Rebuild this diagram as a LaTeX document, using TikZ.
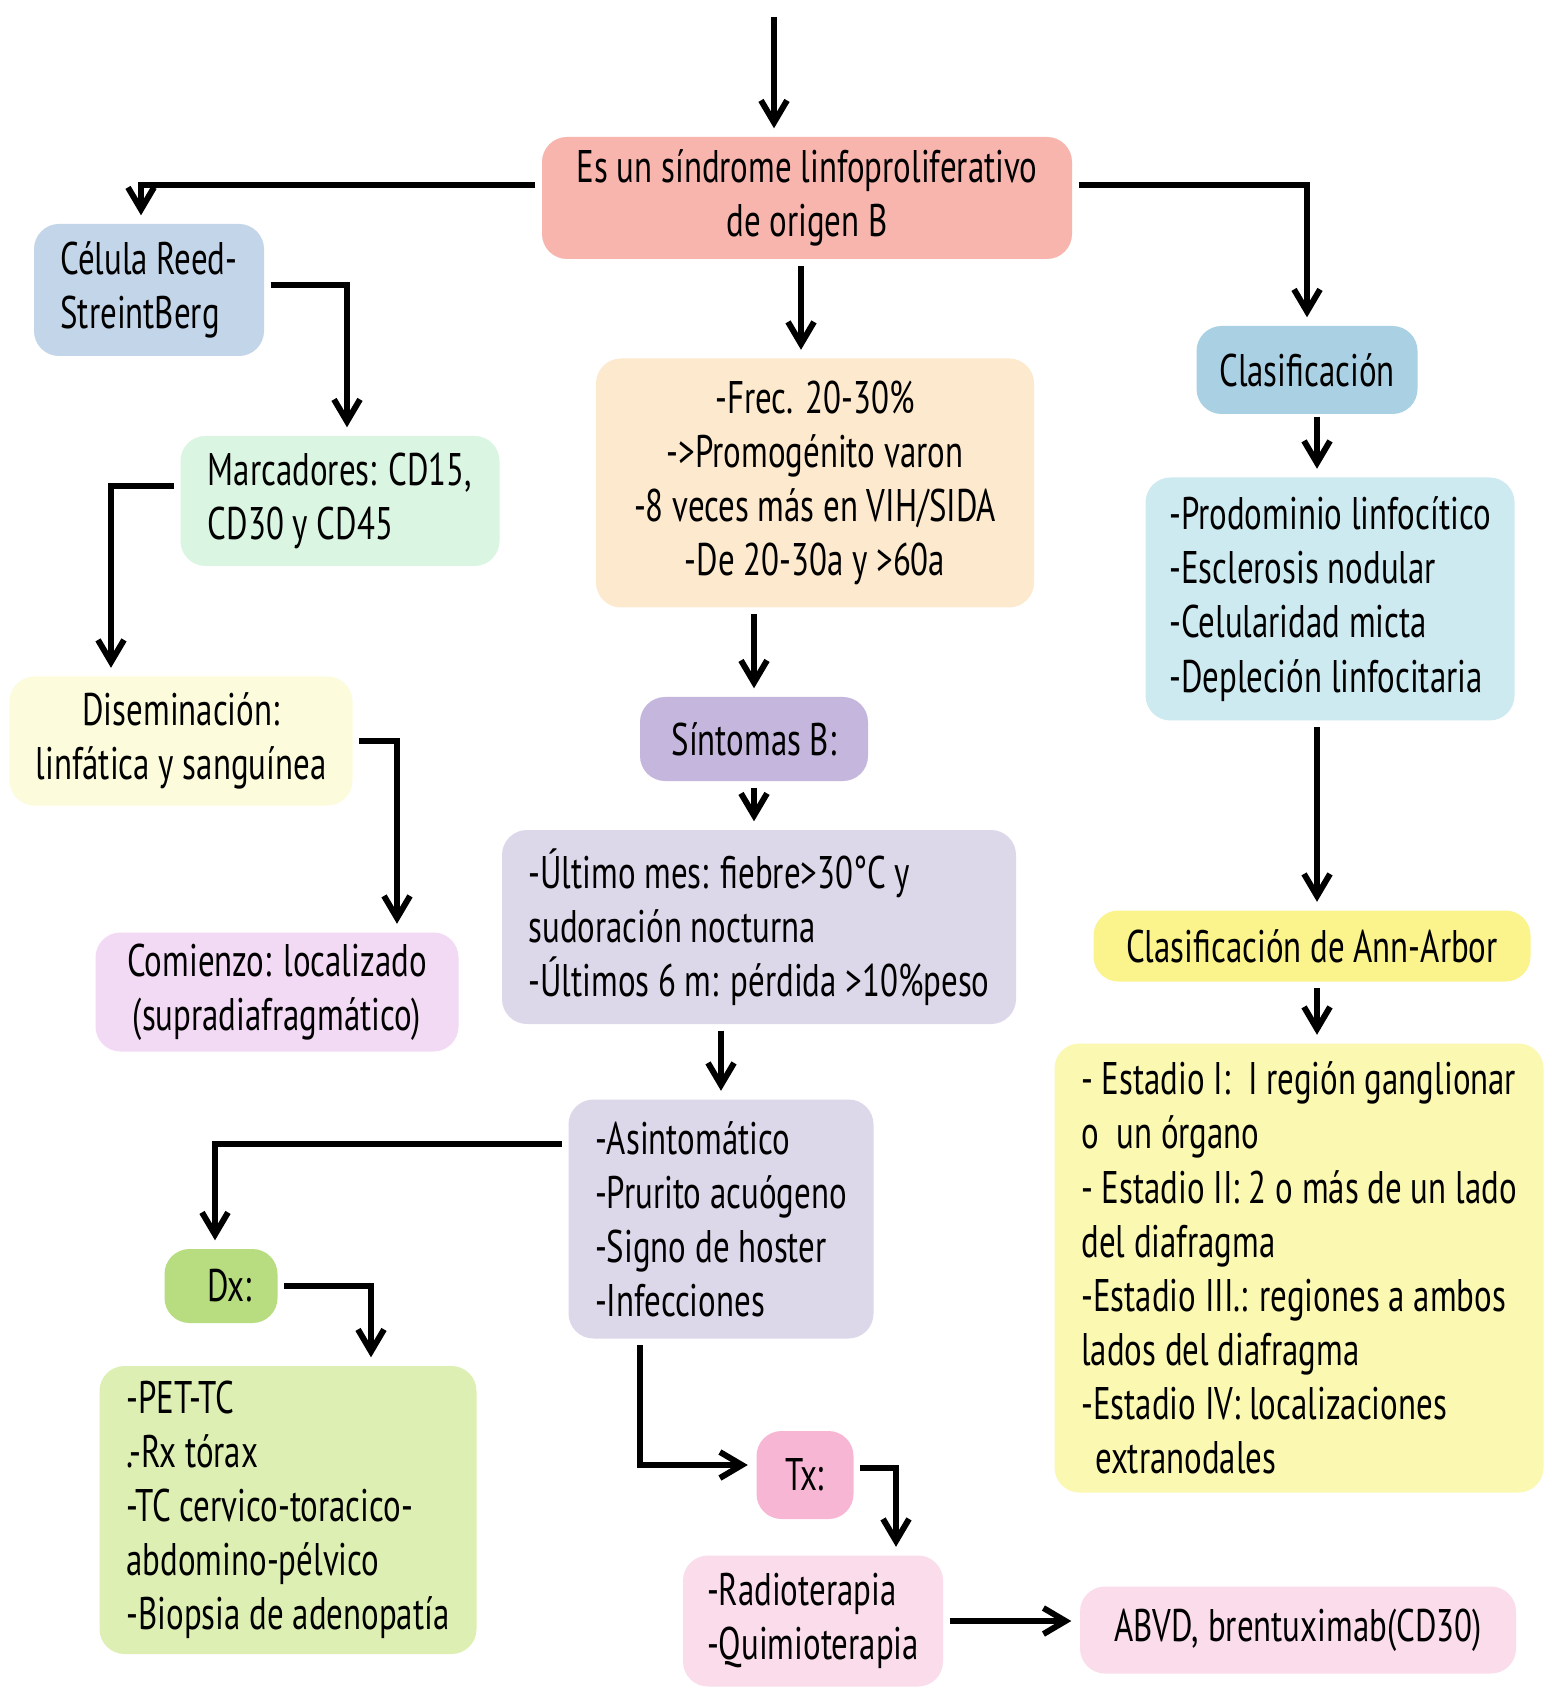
\documentclass[tikz,border=0pt]{standalone}
\usepackage{fontspec}
\setmainfont{PT Sans}[FakeStretch=0.72]
\usetikzlibrary{arrows.meta,positioning}
\tikzset{>={Straight Barb[length=2.2mm,width=2.6mm]}}

\definecolor{rosaorigen}{HTML}{F7B5AE}
\definecolor{azulcelula}{HTML}{C3D5E8}
\definecolor{mentamarc}{HTML}{DAF5E1}
\definecolor{cremadisem}{HTML}{FCFCDD}
\definecolor{lilacomienzo}{HTML}{F3DAF4}
\definecolor{durazno}{HTML}{FDE9CD}
\definecolor{moradosint}{HTML}{C4B6DC}
\definecolor{lavanda}{HTML}{DDD7EA}
\definecolor{verdedx}{HTML}{B7DD80}
\definecolor{verdeclaro}{HTML}{DDEFB2}
\definecolor{rosatx}{HTML}{F8B6D5}
\definecolor{rosaclaro}{HTML}{FADCEB}
\definecolor{azulclasif}{HTML}{A9D1E3}
\definecolor{celeste}{HTML}{CDEAF0}
\definecolor{amarillo}{HTML}{FBF38C}
\definecolor{amarilloclaro}{HTML}{FBF8B2}

\tikzset{
  caja/.style={rounded corners=2.5mm, inner sep=1mm, align=center,
    font=\fontsize{13}{15.4}\selectfont},
  lista/.style={caja, align=left},
  flecha/.style={->, line width=1.7pt, shorten <=0.6mm, shorten >=0.8mm},
}

\begin{document}
\begin{tikzpicture}
  \fill[white] (0,0) rectangle (15.57,-16.90);
  \useasboundingbox (0,0) rectangle (15.57,-16.90);

  \node[caja, fill=rosaorigen, minimum width=5.30cm, minimum height=1.22cm] (origen) at (8.07,-1.98) {Es un síndrome linfoproliferativo\\de origen B};
  \node[lista, fill=azulcelula, minimum width=2.30cm, minimum height=1.32cm] (celula) at (1.49,-2.90) {Célula Reed-\\StreintBerg};
  \node[lista, fill=mentamarc, minimum width=3.19cm, minimum height=1.30cm] (marcadores) at (3.40,-5.01) {Marcadores: CD15,\\CD30 y CD45};
  \node[caja, fill=cremadisem, minimum width=3.43cm, minimum height=1.29cm] (disem) at (1.81,-7.41) {Diseminación:\\linfática y sanguínea};
  \node[caja, fill=lilacomienzo, minimum width=3.63cm, minimum height=1.19cm] (comienzo) at (2.77,-9.92) {Comienzo: localizado\\(supradiafragmático)};

  \node[caja, fill=durazno, minimum width=4.38cm, minimum height=2.49cm] (frec) at (8.15,-4.83) {-Frec. 20-30\%\\->Promogénito varon\\-8 veces más en VIH/SIDA\\-De 20-30a y >60a};
  \node[caja, fill=moradosint, minimum width=2.28cm, minimum height=0.84cm] (sintomas) at (7.54,-7.39) {Síntomas B:};
  \node[lista, fill=lavanda, minimum width=5.14cm, minimum height=1.94cm] (ultimo) at (7.59,-9.27) {-Último mes: fiebre>30°C y\\sudoración nocturna\\-Últimos 6 m: pérdida >10\%peso};
  \node[lista, fill=lavanda, minimum width=3.05cm, minimum height=2.39cm] (asint) at (7.21,-12.19) {-Asintomático\\-Prurito acuógeno\\-Signo de hoster\\-Infecciones};

  \node[caja, fill=verdedx, minimum width=1.13cm, minimum height=0.74cm] (dx) at (2.21,-12.86) {\ \ Dx:};
  \node[lista, fill=verdeclaro, minimum width=3.77cm, minimum height=2.88cm] (dxlista) at (2.88,-15.10) {-PET-TC\\.-Rx tórax\\-TC cervico-toracico-\\abdomino-pélvico\\-Biopsia de adenopatía};
  \node[caja, fill=rosatx, minimum width=0.97cm, minimum height=0.88cm] (tx) at (8.05,-14.75) {Tx:};
  \node[lista, fill=rosaclaro, minimum width=2.60cm, minimum height=1.31cm] (radio) at (8.13,-16.21) {-Radioterapia\\-Quimioterapia};
  \node[caja, fill=rosaclaro, minimum width=4.36cm, minimum height=0.87cm] (abvd) at (12.98,-16.30) {ABVD, brentuximab(CD30)};

  \node[caja, fill=azulclasif, minimum width=2.21cm, minimum height=0.88cm] (clasif) at (13.07,-3.70) {Clasificación};
  \node[lista, fill=celeste, minimum width=3.69cm, minimum height=2.43cm] (tipos) at (13.30,-5.99) {-Prodominio linfocítico\\-Esclerosis nodular\\-Celularidad micta\\-Depleción linfocitaria};
  \node[caja, fill=amarillo, minimum width=4.37cm, minimum height=0.71cm] (annarbor) at (13.12,-9.46) {Clasificación de Ann-Arbor};
  \node[lista, fill=amarilloclaro, minimum width=4.89cm, minimum height=4.49cm] (estadios) at (12.99,-12.68) {- Estadio I: \ I región ganglionar\\o \ un órgano\\- Estadio II: 2 o más de un lado\\del diafragma\\-Estadio III.: regiones a ambos\\lados del diafragma\\-Estadio IV: localizaciones\\\hspace*{0.3em}extranodales};

  \coordinate (inicio) at (7.74,-0.11);
  \draw[flecha] (inicio) -- (inicio |- origen.north);
  \draw[flecha] ([yshift=1.3mm]origen.west) -| ([xshift=-0.8mm]celula.north);
  \draw[flecha] ([yshift=1.3mm]origen.east) -| (clasif.north);
  \draw[flecha] ([xshift=-0.6mm]origen.south) -- ([xshift=-0.6mm]origen.south |- frec.north);
  \draw[flecha] ([yshift=0.5mm]celula.east) -| ([xshift=0.7mm]marcadores.north);
  \draw[flecha] ([yshift=1.5mm]marcadores.west) -| ([xshift=-7mm]disem.north);
  \draw[flecha] (disem.east) -| ([xshift=12mm]comienzo.north);
  \draw[flecha] (sintomas.north |- frec.south) -- (sintomas.north);
  \draw[flecha] (sintomas.south) -- (sintomas.south |- ultimo.north);
  \draw[flecha] (asint.north |- ultimo.south) -- (asint.north);
  \draw[flecha] ([yshift=7.5mm]asint.west) -| ([xshift=-0.6mm]dx.north);
  \draw[flecha] (dx.east) -| ([xshift=8.3mm]dxlista.north);
  \draw[flecha] ([xshift=-8.1mm]asint.south) |- ([yshift=1mm]tx.west);
  \draw[flecha] ([yshift=0.7mm]tx.east) -| ([xshift=8.3mm]radio.north);
  \draw[flecha] (radio.east) -- (radio.east -| abvd.west);
  \draw[flecha, shorten <=0.2mm] ([xshift=1mm]clasif.south) -- ([xshift=1mm]clasif.south |- tipos.north);
  \draw[flecha] ([xshift=0.5mm]annarbor.north |- tipos.south) -- ([xshift=0.5mm]annarbor.north);
  \draw[flecha] ([xshift=0.5mm]annarbor.south) -- ([xshift=0.5mm]annarbor.south |- estadios.north);
\end{tikzpicture}
\end{document}
